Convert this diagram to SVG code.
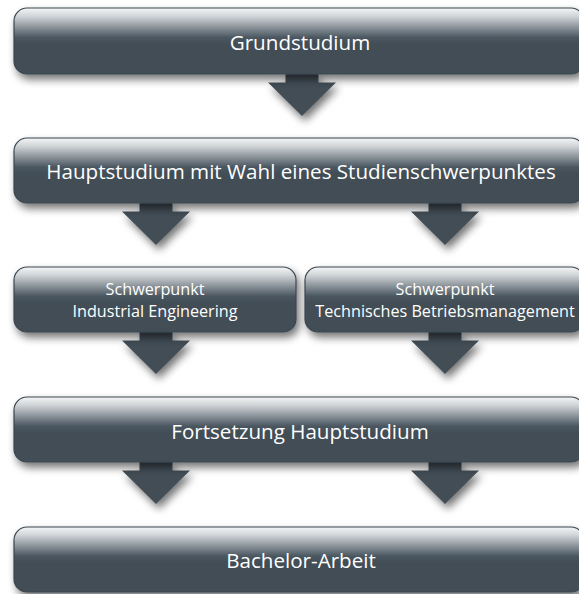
<svg xmlns="http://www.w3.org/2000/svg" width="579" height="594" viewBox="0 0 579 594">
<defs>
<linearGradient id="g" x1="0" y1="0" x2="0" y2="1">
<stop offset="0" stop-color="#f4f5f6"/>
<stop offset="0.12" stop-color="#d2d6d9"/>
<stop offset="0.45" stop-color="#4a5660"/>
<stop offset="0.55" stop-color="#424e57"/>
<stop offset="1" stop-color="#424e57"/>
</linearGradient>
<filter id="sh" x="-10%" y="-20%" width="130%" height="160%">
<feGaussianBlur in="SourceAlpha" stdDeviation="4"/>
<feOffset dx="3" dy="5" result="b"/>
<feComponentTransfer><feFuncA type="linear" slope="0.55"/></feComponentTransfer>
<feMerge><feMergeNode/><feMergeNode in="SourceGraphic"/></feMerge>
</filter>
<path id="arr" d="M-16.5,0 H16.5 V8.5 H34 L0,42 L-34,8.5 H-16.5 Z"/>
</defs>
<style>
.box{fill:url(#g);stroke:#3b4750;stroke-width:1.2;filter:url(#sh)}
.arr{fill:#424e57;filter:url(#sh)}
.t{fill:#ffffff;font-family:"Open Sans","Noto Sans","DejaVu Sans",sans-serif;text-anchor:middle}
.big{font-size:20.6px}
.small{font-size:16.2px}
</style>
<g id="connectors">
<use href="#arr" class="arr" x="302" y="74"/>
<use href="#arr" class="arr" x="156" y="203"/>
<use href="#arr" class="arr" x="445" y="203"/>
<use href="#arr" class="arr" x="156" y="332"/>
<use href="#arr" class="arr" x="445" y="332"/>
<use href="#arr" class="arr" x="156" y="462"/>
<use href="#arr" class="arr" x="445" y="462"/>
</g>
<g id="grundstudium">
<rect class="box" x="14" y="8" width="570" height="66" rx="13"/>
<text class="t big" x="300" y="50">Grundstudium</text>
</g>
<g id="hauptstudium">
<rect class="box" x="14" y="138" width="570" height="65" rx="13"/>
<text class="t big" x="301" y="179">Hauptstudium mit Wahl eines Studienschwerpunktes</text>
</g>
<g id="schwerpunkt-ie">
<rect class="box" x="14" y="267" width="282" height="65" rx="13"/>
<text class="t small" x="155" y="295">Schwerpunkt</text>
<text class="t small" x="155" y="317">Industrial Engineering</text>
</g>
<g id="schwerpunkt-tb">
<rect class="box" x="305" y="267" width="279" height="65" rx="13"/>
<text class="t small" x="445" y="295">Schwerpunkt</text>
<text class="t small" x="445" y="317">Technisches Betriebsmanagement</text>
</g>
<g id="fortsetzung">
<rect class="box" x="14" y="397" width="570" height="65" rx="13"/>
<text class="t big" x="300" y="439">Fortsetzung Hauptstudium</text>
</g>
<g id="bachelor">
<rect class="box" x="14" y="527" width="570" height="65" rx="13"/>
<text class="t big" x="301" y="568">Bachelor-Arbeit</text>
</g>
</svg>
